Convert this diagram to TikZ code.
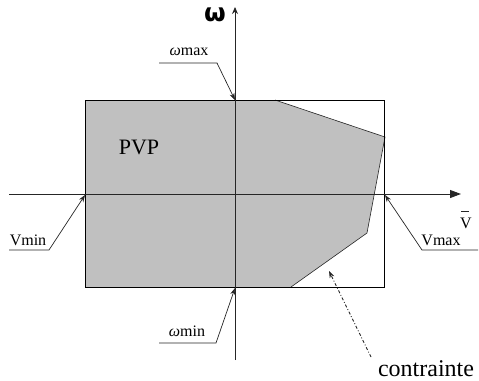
\documentclass[tikz,border=0pt]{standalone}
\usepackage{fontspec}
\setmainfont{Liberation Serif}
\newfontfamily\omfont{DejaVu Sans}
\usetikzlibrary{arrows.meta}
\tikzset{
  leader/.style={draw=black!85, line width=0.7pt, -{Stealth[length=7pt,width=5pt]}},
  axis/.style={draw=black!85, line width=0.9pt},
  lbl/.style={inner sep=0pt, font=\fontsize{16}{18}\selectfont},
}
\begin{document}
\begin{tikzpicture}[x=1pt,y=-1pt]
\useasboundingbox (0,0) rectangle (479,380);
% region corners
\coordinate (tl) at (85,100);
\coordinate (br) at (384,287);
\coordinate (bl) at (85,287);
\coordinate (p1) at (275,100);
\coordinate (p2) at (385,137);
\coordinate (p3) at (367,233);
\coordinate (p4) at (291,287);
\fill[fill={rgb,255:red,192;green,192;blue,192}] (tl) -- (p1) -- (p2) -- (p3) -- (p4) -- (bl) -- cycle;
\draw[black!85, line width=0.6pt] (p1) -- (p2) -- (p3) -- (p4);
\draw[black, line width=0.9pt] (tl) rectangle (br);
% axes
\coordinate (xs) at (9,194);
\coordinate (xe) at (461,194);
\coordinate (ys) at (235,360);
\coordinate (ye) at (235,7);
\draw[axis, -{Triangle[length=11pt,width=8pt]}] (xs) -- (xe);
\draw[axis, -{Stealth[length=7pt,width=6pt]}] (ys) -- (ye);
% axis labels
\node[inner sep=0pt, font=\omfont\fontsize{25}{28}\selectfont\bfseries] (om) at (215,15) {ω};
\node[inner sep=0pt, anchor=base, font=\fontsize{16}{18}\selectfont] (vbar) at (466,228) {V};
\coordinate (bara) at (461,211);
\coordinate (barb) at (469,211);
\draw[black!85, line width=0.8pt] (bara) -- (barb);
\node[inner sep=0pt, font=\fontsize{22}{26}\selectfont] (pvp) at (139,147) {PVP};
% omega max
\node[lbl, anchor=base] (wmax) at (189,55) {{\itshape ω}max};
\coordinate (wmaxa) at (159,63);
\coordinate (wmaxb) at (217,63);
\coordinate (wmaxt) at (235,100);
\draw[leader] (wmaxa) -- (wmaxb) -- (wmaxt);
% omega min
\node[lbl, anchor=base] (wmin) at (187,336) {{\itshape ω}min};
\coordinate (wmina) at (159,343);
\coordinate (wminb) at (216,343);
\coordinate (wmint) at (235,288);
\draw[leader] (wmina) -- (wminb) -- (wmint);
% Vmin
\node[lbl, anchor=base] (vmin) at (28,245) {Vmin};
\coordinate (vmina) at (9,250);
\coordinate (vminb) at (49,250);
\coordinate (vmint) at (85,195);
\draw[leader] (vmina) -- (vminb) -- (vmint);
% Vmax
\node[lbl, anchor=base] (vmax) at (441,245) {Vmax};
\coordinate (vmaxa) at (478,250);
\coordinate (vmaxb) at (422,250);
\coordinate (vmaxt) at (385,195);
\draw[leader] (vmaxa) -- (vmaxb) -- (vmaxt);
% contrainte
\node[inner sep=0pt, anchor=base, font=\fontsize{24}{28}\selectfont] (con) at (426,376) {contrainte};
\coordinate (cona) at (371,357);
\coordinate (cont) at (329,271);
\draw[black!85, line width=0.9pt, dash dot, -{Stealth[length=7pt,width=5pt]}] (cona) -- (cont);
\end{tikzpicture}
\end{document}
